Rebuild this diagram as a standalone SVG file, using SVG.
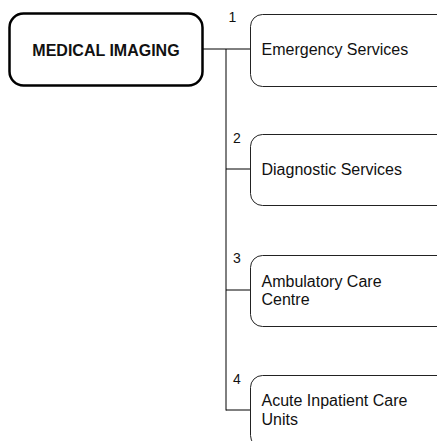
<svg xmlns="http://www.w3.org/2000/svg" width="437" height="441" viewBox="0 0 437 441">
  <style>
    .root rect { fill: #fff; stroke: #000; stroke-width: 2.5; }
    .root text { font-family: "Liberation Sans", Arial, sans-serif; font-size: 16px; font-weight: bold; fill: #111; }
    .child rect { fill: #fff; stroke: #222; stroke-width: 1; }
    .child text { font-family: "Liberation Sans", Arial, sans-serif; font-size: 16px; fill: #111; }
    .child text.num { font-size: 14px; }
    .links line { stroke: #000; stroke-width: 1; }
  </style>
  <rect width="437" height="441" fill="#fff"/>

  <g class="links">
    <line x1="203" y1="49" x2="250" y2="49"/>
    <line x1="226" y1="49" x2="226" y2="410.5"/>
    <line x1="226" y1="169" x2="250" y2="169"/>
    <line x1="226" y1="290" x2="250" y2="290"/>
    <line x1="226" y1="410" x2="250" y2="410"/>
  </g>

  <g id="medical-imaging" class="root">
    <rect x="9.5" y="13.5" width="193" height="72" rx="14"/>
    <text x="106" y="56" text-anchor="middle">MEDICAL IMAGING</text>
  </g>

  <g id="emergency-services" class="child">
    <text class="num" x="228.5" y="22">1</text>
    <rect x="250.5" y="14.5" width="220" height="72" rx="12"/>
    <text x="261.5" y="55">Emergency Services</text>
  </g>

  <g id="diagnostic-services" class="child">
    <text class="num" x="233" y="143">2</text>
    <rect x="250.5" y="134.5" width="220" height="71" rx="12"/>
    <text x="261.5" y="175">Diagnostic Services</text>
  </g>

  <g id="ambulatory-care-centre" class="child">
    <text class="num" x="233" y="263">3</text>
    <rect x="250.5" y="255.5" width="220" height="71" rx="12"/>
    <text x="261.5" y="287">Ambulatory Care</text>
    <text x="261.5" y="305">Centre</text>
  </g>

  <g id="acute-inpatient-care-units" class="child">
    <text class="num" x="233" y="383.5">4</text>
    <rect x="250.5" y="375.5" width="220" height="72" rx="12"/>
    <text x="261.5" y="406">Acute Inpatient Care</text>
    <text x="261.5" y="424.5">Units</text>
  </g>
</svg>
